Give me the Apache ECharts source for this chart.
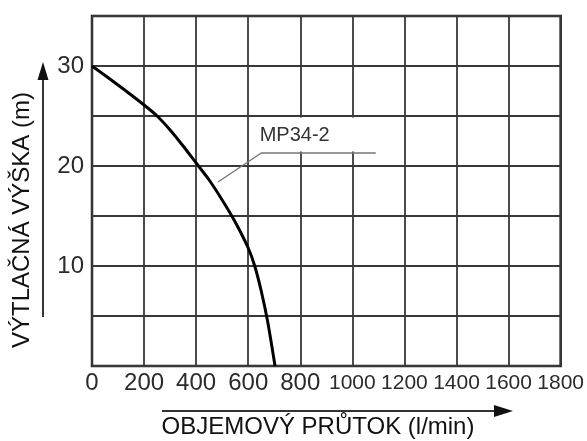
<!DOCTYPE html>
<html lang="cs" style="height: 100%">
<head>
    <meta charset="utf-8">
</head>
<body style="height: 100%; margin: 0; background: #fff">
<div id="container" style="width: 587px; height: 441px"></div>

<script type="text/javascript" src="https://fastly.jsdelivr.net/npm/echarts@6/dist/echarts.min.js"></script>
<script type="text/javascript">
    // krivka cerpadla MP34-2 (prutok l/min, vyska m)
    var flow = [0, 100, 200, 250, 300, 350, 400, 450, 500, 550, 600, 625, 650, 675, 703];
    var head = [30, 28.1, 26.1, 25.0, 23.6, 22.0, 20.3, 18.6, 16.6, 14.4, 11.8, 10.0, 7.5, 4.4, 0];
    var yTickLabels = [10, 20, 30];
    var curveName = 'MP34-2';
    // odkazova cara k popisku
    var leaderFlow = [484, 650, 1090];
    var leaderHead = [18.4, 21.3, 21.3];
    var labelAt = [644, 23.1];

    var dom = document.getElementById('container');
    var myChart = echarts.init(dom);

    var gridColor = '#383838';
    var txt = '#2b2b2b';
    var font = 'Liberation Sans, Arial, sans-serif';

    var option = {
        animation: false,
        backgroundColor: '#fff',
        grid: {
            left: 92, top: 16, right: 24, bottom: 75,
            show: true, borderColor: '#1e1e1e', borderWidth: 2.5
        },
        xAxis: {
            type: 'value', min: 0, max: 1800, interval: 200,
            axisLine: { show: false },
            axisTick: { show: false },
            splitLine: { lineStyle: { color: gridColor, width: 1.8 } },
            axisLabel: {
                margin: 5,
                color: txt,
                fontFamily: font,
                fontSize: 24,
                formatter: function (v) {
                    // ctyrmistna cisla jsou v predloze zuzena
                    return v >= 1000 ? '{n|' + v + '}' : String(v);
                },
                rich: {
                    n: { fontFamily: font, fontSize: 21, color: txt, padding: [2, 0, 0, 0] }
                }
            }
        },
        yAxis: {
            type: 'value', min: 0, max: 35, interval: 5,
            axisLine: { show: false },
            axisTick: { show: false },
            splitLine: { lineStyle: { color: gridColor, width: 1.8 } },
            axisLabel: {
                margin: 8,
                color: txt,
                fontFamily: font,
                fontSize: 24,
                formatter: function (v) {
                    return yTickLabels.indexOf(v) >= 0 ? String(v) : '';
                }
            }
        },
        series: [
            {
                type: 'line',
                data: flow.map(function (f, i) { return [f, head[i]]; }),
                smooth: 0.25,
                symbol: 'none',
                lineStyle: { color: '#000', width: 3 },
                z: 5
            },
            {
                type: 'line',
                data: leaderFlow.map(function (f, i) { return [f, leaderHead[i]]; }),
                symbol: 'none',
                silent: true,
                lineStyle: { color: '#777', width: 1.5 },
                z: 4
            }
        ]
    };

    myChart.setOption(option);

    var p = myChart.convertToPixel({ gridIndex: 0 }, labelAt);

    myChart.setOption({
        graphic: [
            // bily podklad popisku prekryva mrizku
            { type: 'rect', shape: { x: p[0] - 8, y: p[1] - 17.5, width: 133, height: 34 }, style: { fill: '#fff' } },
            {
                type: 'text', x: p[0], y: p[1],
                style: {
                    text: curveName, fill: '#333',
                    font: '20px Liberation Sans, Arial, sans-serif',
                    align: 'left', verticalAlign: 'middle'
                }
            },
            // osa y - sipka
            { type: 'line', shape: { x1: 43, y1: 317, x2: 43, y2: 76 }, style: { stroke: '#333', lineWidth: 2 } },
            { type: 'polygon', shape: { points: [[43, 62], [37.5, 80], [48.5, 80]] }, style: { fill: '#111' } },
            {
                type: 'text', x: 22, y: 220, rotation: Math.PI / 2,
                style: {
                    text: 'VÝTLAČNÁ VÝŠKA (m)', fill: '#111',
                    font: '24px Liberation Sans, Arial, sans-serif',
                    align: 'center', verticalAlign: 'middle'
                }
            },
            // osa x - sipka
            { type: 'line', shape: { x1: 162, y1: 411, x2: 498, y2: 411 }, style: { stroke: '#333', lineWidth: 2 } },
            { type: 'polygon', shape: { points: [[513, 411], [494, 405], [494, 417]] }, style: { fill: '#111' } },
            {
                type: 'text', x: 318, y: 427,
                style: {
                    text: 'OBJEMOVÝ PRŮTOK (l/min)', fill: '#111',
                    font: '24px Liberation Sans, Arial, sans-serif',
                    align: 'center', verticalAlign: 'middle'
                }
            }
        ]
    });

    window.addEventListener('resize', myChart.resize);
</script>
</body>
</html>
